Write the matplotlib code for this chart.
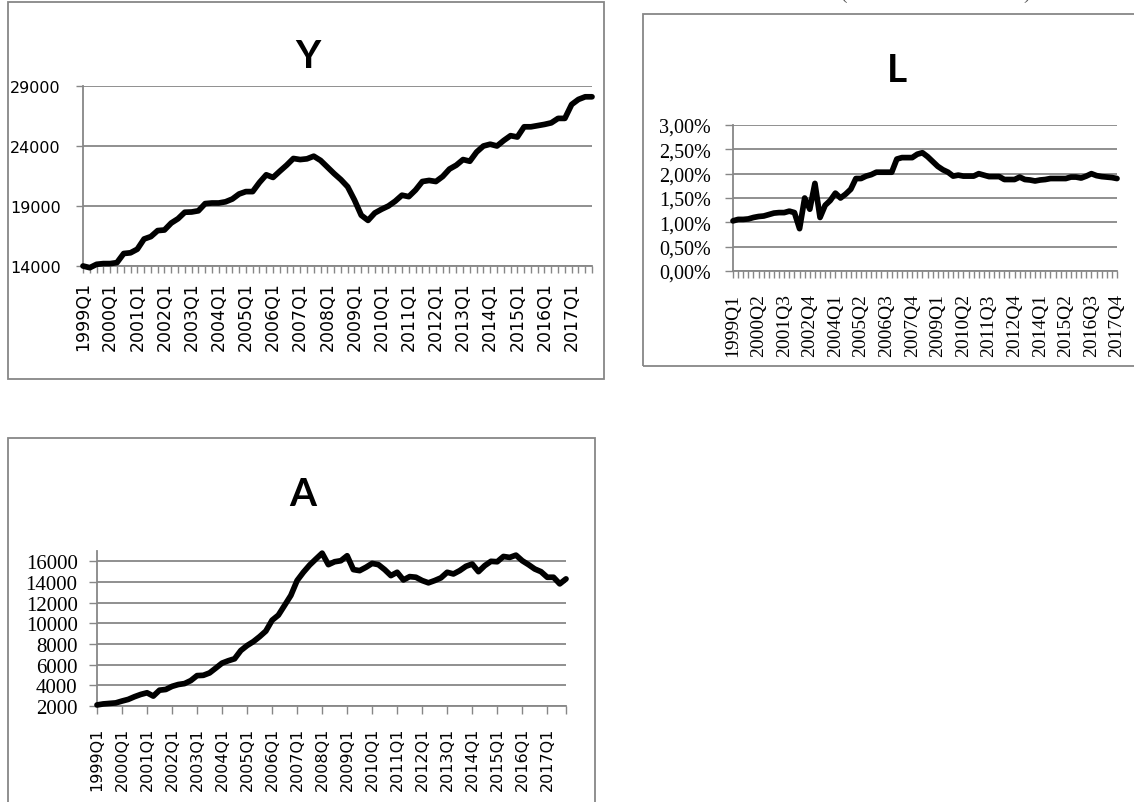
import matplotlib
matplotlib.use('Agg')
import matplotlib.pyplot as plt
from matplotlib.patches import Rectangle
from matplotlib.ticker import FixedLocator, FuncFormatter, NullFormatter

W, H = 1134, 803

quarters = [f"{y}Q{q}" for y in range(1999, 2018) for q in range(1, 5)]

Y_values = [14000, 13860, 14140, 14200, 14200, 14280, 15040, 15100,
            15400, 16250, 16450, 16950, 17000, 17580, 17940, 18480,
            18500, 18600, 19200, 19250, 19250, 19350, 19580, 20000,
            20200, 20200, 20960, 21600, 21380, 21900, 22400, 22960,
            22870, 22930, 23150, 22800, 22250, 21700, 21200, 20600,
            19500, 18230, 17800, 18420, 18730, 19000, 19400, 19900,
            19780, 20330, 21040, 21130, 21040, 21460, 22080, 22400,
            22870, 22730, 23500, 24000, 24150, 24000, 24460, 24860,
            24750, 25600, 25600, 25700, 25800, 25930, 26300, 26300,
            27460, 27880, 28100, 28100]

L_values = [1.03, 1.06, 1.06, 1.07, 1.10, 1.12, 1.13, 1.16,
            1.19, 1.20, 1.20, 1.23, 1.20, 0.87, 1.50, 1.27,
            1.80, 1.10, 1.35, 1.45, 1.60, 1.50, 1.58, 1.68,
            1.90, 1.90, 1.95, 1.98, 2.03, 2.03, 2.03, 2.03,
            2.30, 2.33, 2.33, 2.33, 2.40, 2.43, 2.35, 2.25,
            2.15, 2.08, 2.03, 1.95, 1.97, 1.95, 1.95, 1.95,
            2.00, 1.97, 1.94, 1.94, 1.94, 1.88, 1.88, 1.88,
            1.93, 1.88, 1.87, 1.85, 1.87, 1.88, 1.90, 1.90,
            1.90, 1.90, 1.93, 1.93, 1.91, 1.95, 2.00, 1.96,
            1.94, 1.93, 1.92, 1.90]

A_values = [2100, 2200, 2250, 2300, 2480, 2640, 2900, 3120,
            3280, 2960, 3530, 3600, 3900, 4080, 4170, 4460,
            4940, 4970, 5200, 5670, 6150, 6380, 6570, 7370,
            7850, 8230, 8710, 9250, 10300, 10790, 11740, 12700,
            14140, 14940, 15640, 16220, 16790, 15680, 15960, 16060,
            16540, 15200, 15100, 15420, 15800, 15680, 15200, 14620,
            14940, 14200, 14520, 14460, 14140, 13920, 14140, 14400,
            14940, 14780, 15100, 15520, 15740, 15000, 15580, 16000,
            15960, 16470, 16380, 16600, 16060, 15680, 15260, 15000,
            14460, 14460, 13820, 14300]

Y_yticks = [14000, 19000, 24000, 29000]
L_yticks = [0.0, 0.5, 1.0, 1.5, 2.0, 2.5, 3.0]
A_yticks = [2000, 4000, 6000, 8000, 10000, 12000, 14000, 16000]

GREY = '#878787'
SANS = 'DejaVu Sans'
SERIF = 'Liberation Serif'

fig = plt.figure(figsize=(W / 100, H / 100), dpi=100)
fig.patch.set_facecolor('white')


def px_axes(l, t, r, b):
    return fig.add_axes([l / W, 1 - b / H, (r - l) / W, (b - t) / H])


def frame(l, t, r, b):
    fig.patches.append(Rectangle((l / W, 1 - b / H), (r - l) / W, (b - t) / H,
                                 transform=fig.transFigure, fill=False,
                                 edgecolor=GREY, linewidth=1.3, zorder=0))


def title(x, y, s):
    fig.text(x / W, 1 - y / H, s, ha='center', va='baseline',
             fontfamily='Lato', fontweight='bold', fontsize=28, color='black')


def style(ax, ylim, yticks):
    ax.set_facecolor('none')
    for sp in ('top', 'right'):
        ax.spines[sp].set_visible(False)
    for sp in ('left', 'bottom'):
        ax.spines[sp].set_color(GREY)
        ax.spines[sp].set_linewidth(1.3)
    ax.set_ylim(*ylim)
    ax.set_yticks(yticks)
    ax.yaxis.grid(True, color=GREY, linewidth=1.3)
    ax.set_axisbelow(True)
    ax.set_xlim(0, len(quarters) - 1)
    ax.tick_params(which='both', direction='out', color=GREY, width=1.0)


LW = 4.1

# ---------------- Y ----------------
frame(8, 3, 604, 380)
axY = px_axes(83, 87, 592, 267)
style(axY, (14000, 29000), Y_yticks)
axY.plot(range(len(Y_values)), Y_values, color='black', lw=LW,
         solid_joinstyle='round', solid_capstyle='round', clip_on=False, zorder=5)
ylab = list(range(0, len(quarters), 4))
axY.set_xticks(ylab)
axY.set_xticklabels([quarters[i] for i in ylab], rotation=90, ha='center', va='top',
                    fontfamily=SANS, fontsize=12.5)
axY.xaxis.set_minor_locator(FixedLocator(range(len(quarters))))
axY.tick_params(axis='x', which='both', length=5, pad=6)
axY.tick_params(axis='y', length=5, pad=11, labelsize=11.5)
for t in axY.get_yticklabels():
    t.set_fontfamily(SANS)
title(308, 68, 'Y')

# ---------------- L ----------------
frame(643, 15, 1140, 367)
axL = px_axes(733, 126, 1117, 272)
style(axL, (0, 3.0), L_yticks)
axL.plot(range(len(L_values)), L_values, color='black', lw=LW,
         solid_joinstyle='round', solid_capstyle='round', clip_on=False, zorder=5)
llab = list(range(0, len(quarters), 5))
axL.set_xticks(llab)
axL.set_xticklabels([quarters[i] for i in llab], rotation=90, ha='center', va='top',
                    fontfamily=SERIF, fontsize=14)
axL.xaxis.set_minor_locator(FixedLocator(range(len(quarters))))
axL.yaxis.set_major_formatter(FuncFormatter(lambda v, p: f"{v:.2f}".replace('.', ',') + '%'))
axL.tick_params(axis='x', which='both', length=5, pad=11)
axL.tick_params(axis='y', length=6, pad=10, labelsize=14.5)
for t in axL.get_yticklabels():
    t.set_fontfamily(SERIF)
title(897, 82, 'L')

# partial text cut at the top edge (only the lower tips of the brackets show)
fig.text(843 / W, 1 + 1 / H, '(', ha='center', va='baseline', fontfamily=SERIF,
         fontsize=14, color='#555555')
fig.text(1027 / W, 1 + 1 / H, ')', ha='center', va='baseline', fontfamily=SERIF,
         fontsize=14, color='#555555')

# ---------------- A ----------------
frame(8, 439, 595, 810)
axA = px_axes(97, 552, 566, 707)
style(axA, (2000, 17000), A_yticks)
axA.plot(range(len(A_values)), A_values, color='black', lw=LW,
         solid_joinstyle='round', solid_capstyle='round', clip_on=False, zorder=5)
alab = list(range(0, len(quarters), 4))
axA.set_xticks(alab)
axA.set_xticklabels([quarters[i] for i in alab], rotation=90, ha='center', va='top',
                    fontfamily=SANS, fontsize=11.5)
axA.xaxis.set_minor_locator(FixedLocator([len(quarters) - 1]))
axA.xaxis.set_minor_formatter(NullFormatter())
axA.tick_params(axis='x', which='both', length=6, pad=9)
axA.tick_params(axis='y', length=6, pad=8, labelsize=15)
for t in axA.get_yticklabels():
    t.set_fontfamily(SERIF)
title(303, 506, 'A')

fig.savefig('out.png', dpi=100, facecolor='white')
